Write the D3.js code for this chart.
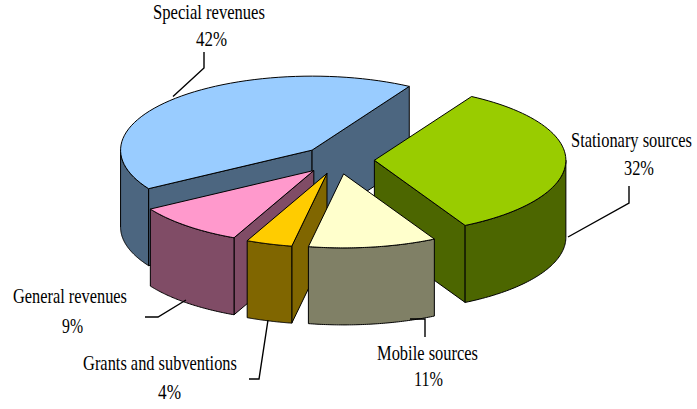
<!DOCTYPE html>
<html><head><meta charset="utf-8">
<script src="https://cdn.jsdelivr.net/npm/d3@7/dist/d3.min.js"></script>
<style>html,body{margin:0;background:#fff}svg{display:block}text{font-family:"Liberation Serif",serif;fill:#000}</style>
</head><body><svg id="c" width="697" height="409"></svg>
<script>
// Data, in chart order going clockwise from the first slice
const categories = ["Stationary sources","Mobile sources","Grants and subventions","General revenues","Special revenues"];
const percentLabels = [32,11,4,9,42];
// slice sizes (share of the full circle, %)
const sliceSizes = [33.67,10.8,3.9,9.44,42.19];
const topColors = ["#99CC00","#FFFFCC","#FFCC00","#FF99CC","#99CCFF"];
const sideColors = ["#4C6600","#808066","#806600","#804C66","#4C6680"];

const firstAngle = 30.5*Math.PI/180;
const cx=338, cy=160, rx=191.5, ry=74, depth=77, explode=0.19;
const X=d3.scaleLinear().domain([-1,1]).range([cx-rx,cx+rx]);
const Y=d3.scaleLinear().domain([-1,1]).range([cy-ry,cy+ry]);

const pie=d3.pie().sort(null).value(d=>d).startAngle(firstAngle).endAngle(firstAngle+2*Math.PI);
const arcs=pie(sliceSizes).map((a,i)=>{
  const mid=(a.startAngle+a.endAngle)/2;
  return {...a,i,ox:explode*Math.sin(mid),oy:-explode*Math.cos(mid)};
});
const svg=d3.select("#c");
const P=(a,t,dy=0)=>[X(a.ox+(t==null?0:Math.sin(t))),Y(a.oy-(t==null?0:Math.cos(t)))+dy];
const rimPts=(t0,t1,dy=0,a)=>d3.range(0,61).map(k=>P(a,t0+(t1-t0)*k/60,dy));
const line=d3.line();
function poly(pts,fill){
  svg.append("path").attr("d",line(pts)+"Z").attr("fill",fill)
    .attr("stroke","#000").attr("stroke-width",1).attr("stroke-linejoin","round");
}
function drawSlice(a){
  const s=a.startAngle,e=a.endAngle,side=sideColors[a.i];
  const A=P(a,null),Ad=P(a,null,depth);
  // radial faces that look toward the viewer
  [s,e].forEach((t,k)=>{
    const n=k===0?t-Math.PI/2:t+Math.PI/2; // outward normal of the cut face
    if(-Math.cos(n)>0){const R=P(a,t),Rd=P(a,t,depth);poly([A,R,Rd,Ad],side);}
  });
  // outer wall: the part of the rim facing the viewer (angle between 90 and 270 degrees)
  for(const off of [0,2*Math.PI]){
    const w0=Math.max(s,Math.PI/2+off),w1=Math.min(e,1.5*Math.PI+off);
    if(w1>w0){poly([...rimPts(w0,w1,0,a),...rimPts(w1,w0,depth,a)],side);}
  }
  // top
  poly([A,...rimPts(s,e,0,a)],topColors[a.i]);
}
// back to front painting
[4,0,3,2,1].forEach(i=>drawSlice(arcs[i]));

// leaders
const leaders=[
 [[568,237],[629,203],[629,186]],
 [[410,319],[425,319],[425,337]],
 [[268,320],[259,379],[249,379]],
 [[186,300],[158,317],[145,317]],
 [[173,96.5],[204,68],[204,52]]
];
leaders.forEach(l=>svg.append("path").attr("d",line(l)).attr("fill","none").attr("stroke","#000").attr("stroke-width",1.4));

// label placement: name centre x, name baseline, name width, percent centre x, percent baseline, percent width
const lab=[
 [631.5,146.5,121,639,175,30],
 [427.5,360,101,428.5,386,29],
 [160,370,154,169.5,399,23],
 [70,303,114,72.5,333,21],
 [209,18.7,112,211.5,45.5,31]
];
function squeezed(str,x,y,w){
  const t=svg.append("text").attr("text-anchor","middle").attr("font-size",21).text(str);
  const sx=w/t.node().getComputedTextLength();
  t.attr("transform",`translate(${x},${y}) scale(${sx},1)`);
}
categories.forEach((c,i)=>{
  const [x,y,w,px,py,pw]=lab[i];
  squeezed(c,x,y,w);
  squeezed(percentLabels[i]+"%",px,py,pw);
});
</script></body></html>
